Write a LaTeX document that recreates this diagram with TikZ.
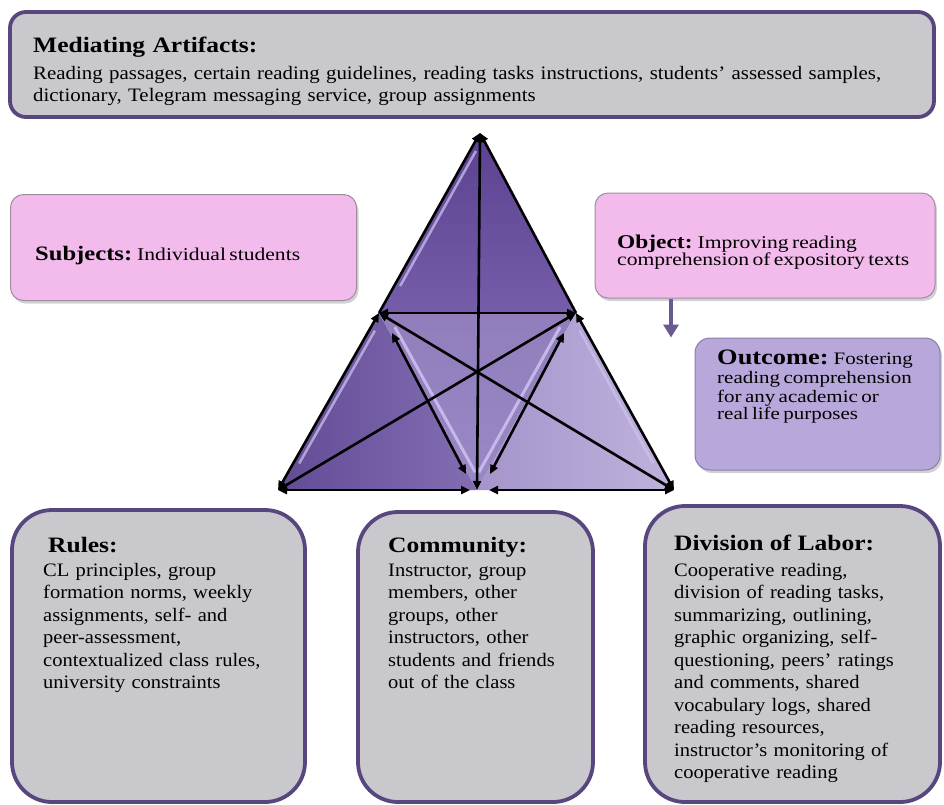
\documentclass[tikz,border=0pt]{standalone}
\usepackage{fontspec}
\setmainfont{Liberation Serif}
\newfontfamily\bodyserif[FakeStretch=1.08]{Liberation Serif}
\newfontfamily\topserif[FakeStretch=1.10]{Liberation Serif}
\newfontfamily\headserif[FakeStretch=1.16]{Liberation Serif}
\newfontfamily\wideserif[FakeStretch=1.20]{Liberation Serif}
\usetikzlibrary{arrows.meta,shadows,calc}

\definecolor{boxgray}{HTML}{C9C8CC}
\definecolor{boxrim}{HTML}{58467E}
\definecolor{pinkfill}{HTML}{F3BAEC}
\definecolor{pinkrim}{HTML}{A08CA0}
\definecolor{lavfill}{HTML}{B8A7DA}
\definecolor{lavrim}{HTML}{8C7CAA}
\definecolor{topdark}{HTML}{5A4290}
\definecolor{topmid}{HTML}{755DAA}
\definecolor{ctrfill}{HTML}{9A88C6}
\definecolor{rtfill}{HTML}{B3A5D6}
\definecolor{glint}{HTML}{D2C6F2}
\definecolor{linkarrow}{HTML}{6A5A92}

\tikzset{
  graybox/.style={draw=boxrim, line width=3.8pt, fill=boxgray},
  pinkbox/.style={draw=pinkrim, line width=1pt, fill=pinkfill, rounded corners=13pt,
    drop shadow={shadow xshift=2pt, shadow yshift=-3pt, opacity=0.35}},
  outbox/.style={draw=lavrim, line width=1pt, fill=lavfill, rounded corners=15pt,
    drop shadow={shadow xshift=2pt, shadow yshift=-3pt, opacity=0.35}},
  txt/.style={anchor=base west, inner sep=0pt, align=left},
  bodytxt/.style={txt, font=\bodyserif\fontsize{19}{22.5}\selectfont},
  headtxt/.style={txt, font=\headserif\fontsize{22}{24}\selectfont\bfseries},
  dbl/.style={{Triangle[length=9pt,width=8pt]}-{Triangle[length=9pt,width=8pt]}, line width=2.6pt, black},
  sgl/.style={-{Triangle[length=9pt,width=8pt]}, line width=2.6pt, black},
}

\begin{document}
\begin{tikzpicture}[x=1pt, y=-1pt]
\useasboundingbox (0,0) rectangle (944,804);
\fill[white] (0,0) rectangle (944,804);

% ---------- mediating artifacts ----------
\draw[graybox, rounded corners=16pt] (10,12) rectangle (934,117);
\node[headtxt, text width=880pt] (artT) at (33,52) {Mediating Artifacts:};
\node[txt, font=\topserif\fontsize{19}{22}\selectfont, text width=900pt] (artB) at (33,79)
  {Reading passages, certain reading guidelines, reading tasks instructions, students’ assessed samples,\\
   dictionary, Telegram messaging service, group assignments};

% ---------- subjects / object / outcome ----------
\node[pinkbox, minimum width=346pt, minimum height=106pt] (subj) at (183.5,247.5) {};
\node[txt, text width=320pt] (subjT) at (35,260)
  {\wideserif{\fontsize{20.5}{24}\selectfont\bfseries Subjects:} \fontsize{18}{22}\selectfont Individual students};

\node[pinkbox, minimum width=340pt, minimum height=105pt] (obj) at (765,245.5) {};
\node[txt, text width=320pt] (objT) at (617,248)
  {\wideserif\fontsize{18}{23}\selectfont{\fontsize{19.5}{23}\selectfont\bfseries Object:} Improving reading\\
   comprehension of expository texts};

\node[outbox, minimum width=245pt, minimum height=132pt] (out) at (817.5,404) {};
\node[txt, text width=230pt] (outT) at (717,364)
  {\wideserif\fontsize{17.5}{19}\selectfont{\fontsize{22}{19}\selectfont\bfseries Outcome:} Fostering\\
   reading comprehension\\ for any academic or\\ real life purposes};

\coordinate (linkx) at (671,0);
\draw[-{Triangle[length=13pt,width=15pt]}, line width=4pt, linkarrow]
  (obj.south -| linkx) -- (out.north -| linkx);

% ---------- bottom row ----------
\draw[graybox, rounded corners=40pt] (12,510) rectangle (305,802);
\node[headtxt] (ruleT) at (48,552) {Rules:};
\node[bodytxt, text width=280pt] (ruleB) at (43,576)
  {CL principles, group\\ formation norms, weekly\\ assignments, self- and\\ peer-assessment,\\
   contextualized class rules,\\ university constraints};

\draw[graybox, rounded corners=40pt] (358,512) rectangle (593,802);
\node[headtxt] (commT) at (388,552) {Community:};
\node[bodytxt, text width=220pt] (commB) at (388,576)
  {Instructor, group\\ members, other\\ groups, other\\ instructors, other\\ students and friends\\ out of the class};

\draw[graybox, rounded corners=40pt] (645,506) rectangle (940,802);
\node[headtxt] (divT) at (674,550) {Division of Labor:};
\node[bodytxt, text width=280pt] (divB) at (674,576)
  {Cooperative reading,\\ division of reading tasks,\\ summarizing, outlining,\\ graphic organizing, self-\\
   questioning, peers’ ratings\\ and comments, shared\\ vocabulary logs, shared\\ reading resources,\\
   instructor’s monitoring of\\ cooperative reading};

% ---------- activity triangle ----------
\coordinate (A)  at (480,133);
\coordinate (L)  at (379,313);
\coordinate (R)  at (576,313);
\coordinate (BL) at (278,490);
\coordinate (BM) at (477,490);
\coordinate (BR) at (674,490);

\shade[top color=topdark, bottom color=topmid] (A) -- (L) -- (R) -- cycle;
\shade[left color=topdark!95!white, right color=topmid!90!white] (L) -- (BL) -- (BM) -- cycle;
\shade[top color=topmid!80!white, bottom color=ctrfill] (L) -- (R) -- (BM) -- cycle;
\shade[left color=ctrfill!90!white, right color=rtfill!85!white] (R) -- (BM) -- (BR) -- cycle;

% bevel glints along the inner edges
\draw[glint, line width=3pt, opacity=0.8] ($(L)!0.08!(BM)+(8,0)$) -- ($(L)!0.9!(BM)+(8,0)$);
\draw[glint, line width=3pt, opacity=0.8] ($(R)!0.08!(BM)+(-8,0)$) -- ($(R)!0.9!(BM)+(-8,0)$);
\draw[glint, line width=2.5pt, opacity=0.7] ($(L)!0.1!(BL)+(6,0)$) -- ($(L)!0.85!(BL)+(6,0)$);
\draw[glint, line width=2.5pt, opacity=0.7] ($(A)!0.1!(L)+(6,0)$) -- ($(A)!0.85!(L)+(6,0)$);
\draw[glint, line width=2.5pt, opacity=0.6] ($(R)!0.1!(BR)+(-6,0)$) -- ($(R)!0.85!(BR)+(-6,0)$);

\coordinate (BMl) at (470,490);
\coordinate (BMr) at (489,490);
\coordinate (L2)  at (392,333);
\coordinate (M2)  at (466,474);
\coordinate (R2)  at (564,333);
\coordinate (M3)  at (490,474);

\draw[sgl] (L) -- (A);
\draw[sgl] (R) -- (A);
\draw[dbl] (BL) -- (L);
\draw[dbl] (BR) -- (R);
\draw[dbl] (A) -- (BM);
\draw[dbl] (L) -- (R);
\draw[dbl] (BL) -- (BMl);
\draw[dbl] (BMr) -- (BR);
\draw[dbl] (L) -- (BR);
\draw[dbl] (R) -- (BL);
\draw[dbl] (L2) -- (M2);
\draw[dbl] (R2) -- (M3);
\end{tikzpicture}
\end{document}
